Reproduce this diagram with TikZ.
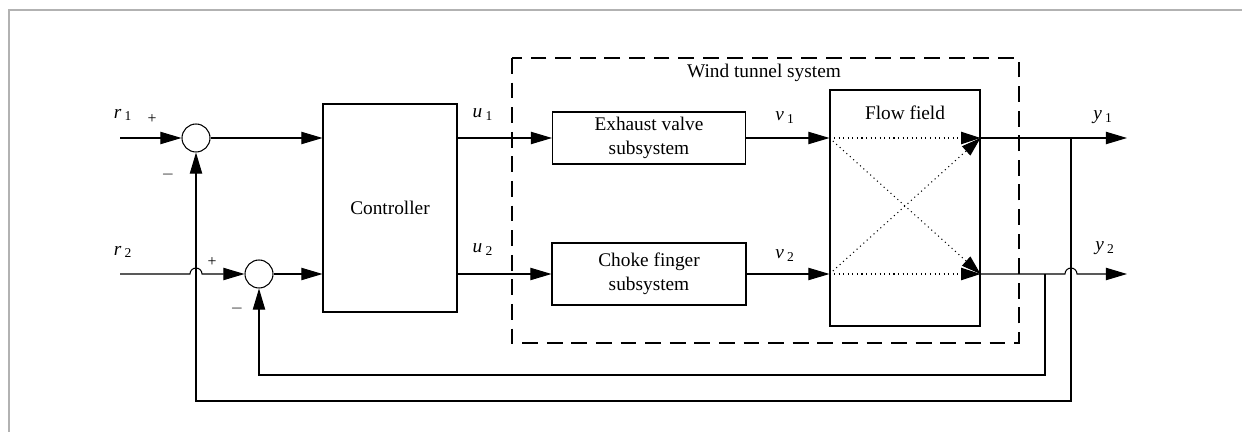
\documentclass[tikz,border=0pt]{standalone}
\usepackage{fontspec}
\setmainfont{Liberation Serif}
\usetikzlibrary{arrows.meta, positioning}

\newcommand{\sg}[2]{\textit{#1}\,\textsubscript{#2}}

\begin{document}
\begin{tikzpicture}[x=0.02cm, y=-0.02cm, font=\fontsize{11}{13.5}\selectfont,
  block/.style={draw, line width=0.6pt, align=center, inner sep=1pt},
  sumnode/.style={draw, circle, line width=0.6pt, minimum size=0.56cm, inner sep=0pt},
  wire/.style={line width=0.6pt},
  sig/.style={line width=0.6pt, -{Triangle[length=12pt, width=7pt]}},
  cross/.style={line width=0.6pt, dotted, -{Triangle[length=11pt, width=7pt]}},
  sgn/.style={font=\fontsize{9}{10}\selectfont}]

\useasboundingbox (0,0) rectangle (1242,432);

% page frame
\draw[black!30, line width=0.8pt] (9,432) -- (9,10) -- (1242,10);

% ---------- Blocks ----------
\node[sumnode] (s1) at (196,138) {};
\node[sumnode] (s2) at (259,274) {};
\node[block, minimum width=2.68cm, minimum height=4.16cm] (ctrl) at (390,208) {Controller};
\node[block, minimum width=3.86cm, minimum height=1.04cm] (ev) at (649,138) {Exhaust valve\\subsystem};
\node[block, minimum width=3.88cm, minimum height=1.24cm] (cf) at (649,274) {Choke finger\\subsystem};
\node[block, minimum width=3cm, minimum height=4.72cm] (ff) at (905,208) {};
\node (fftxt) at (905,113) {Flow field};

% Wind tunnel system (dashed frame)
\draw[line width=1.2pt, dash pattern=on 9pt off 5pt] (512,58) rectangle (1019,343);
\node (wts) at (764,73) {Wind tunnel system};

% ---------- Signal points ----------
\coordinate (r1in) at (120,138);
\coordinate (r2in) at (120,274);
\coordinate (a1) at (ev -| ff.west);
\coordinate (a2) at (cf -| ff.west);
\coordinate (b1) at (ev -| ff.east);
\coordinate (b2) at (cf -| ff.east);
\coordinate (br1) at (1071,138);
\coordinate (br2) at (1045,274);
\coordinate (fb1) at (196,401);
\coordinate (fb2) at (259,375);
\coordinate (y1out) at (1127,138);
\coordinate (y2out) at (1127,274);

% ---------- Connectors ----------
\draw[sig] (r1in) -- (s1.west);
\draw[sig] (r2in) -- (190,274) arc[start angle=180, end angle=0, radius=0.12cm] -- (s2.west);
\draw[sig] (s1.east) -- (s1 -| ctrl.west);
\draw[sig] (s2.east) -- (s2 -| ctrl.west);
\draw[sig] (ctrl.east |- ev) -- (ev.west);
\draw[sig] (ctrl.east |- cf) -- (cf.west);
\draw[sig] (ev.east) -- (a1);
\draw[sig] (cf.east) -- (a2);

% flow coupling
\draw[cross] (a1) -- (b1);
\draw[cross] (a1) -- (b2);
\draw[cross] (a2) -- (b1);
\draw[cross] (a2) -- (b2);

% outputs
\draw[sig] (b1) -- (y1out);
\draw[sig] (b2) -- (1065,274) arc[start angle=180, end angle=0, radius=0.12cm] -- (y2out);

% feedback
\draw[sig] (br1) |- (fb1) -- (s1.south);
\draw[sig] (br2) |- (fb2) -- (s2.south);

% ---------- Labels ----------
\foreach \p/\lbl in {(123,115)/\sg{r}{1}, (123,252)/\sg{r}{2},
                     (483,115)/\sg{u}{1}, (483,250)/\sg{u}{2},
                     (785,118)/\sg{v}{1}, (785,256)/\sg{v}{2},
                     (1103,117)/\sg{y}{1}, (1105,248)/\sg{y}{2}}
  \node at \p {\lbl};

\foreach \p/\lbl in {(152,119)/+, (168,175)/$-$, (212,262)/+, (237,309)/$-$}
  \node[sgn] at \p {\lbl};

\end{tikzpicture}
\end{document}
